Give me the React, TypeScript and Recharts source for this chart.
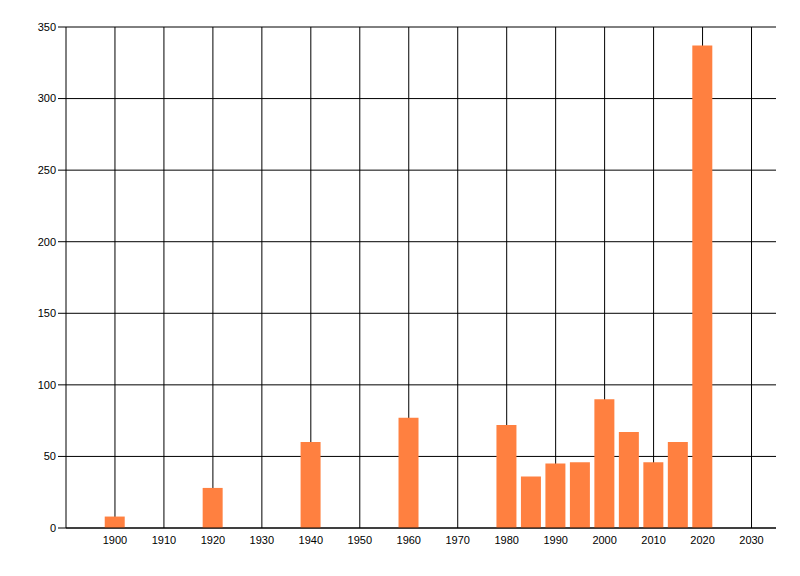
import { BarChart, Bar, XAxis, YAxis, CartesianGrid } from 'recharts';

const years = [1900, 1920, 1940, 1960, 1980, 1985, 1990, 1995, 2000, 2005, 2010, 2015, 2020];
const counts = [8, 28, 60, 77, 72, 36, 45, 46, 90, 67, 46, 60, 337];
const xTicks = [1900, 1910, 1920, 1930, 1940, 1950, 1960, 1970, 1980, 1990, 2000, 2010, 2020, 2030];
const yTicks = [0, 50, 100, 150, 200, 250, 300, 350];

const data = years.map((year, i) => ({ year, count: counts[i] }));

const tickStyle = { fontSize: 11, fill: '#000', fontFamily: '"Liberation Sans", Arial, sans-serif' };

export default function App() {
  return (
    <div style={{ position: 'absolute', left: 0, top: 0, width: 800, height: 576, background: '#fff' }}>
      <BarChart width={800} height={576} data={data} margin={{ top: 27, right: 24, bottom: 18, left: 0 }}>
        <CartesianGrid stroke="#000" strokeWidth={1} syncWithTicks />
        <XAxis
          dataKey="year"
          type="number"
          domain={[1890, 2035]}
          ticks={xTicks}
          interval={0}
          height={30}
          tickLine={false}
          axisLine={{ stroke: '#000' }}
          tick={tickStyle}
          tickMargin={2}
        />
        <YAxis
          type="number"
          domain={[0, 350]}
          ticks={yTicks}
          interval={0}
          width={66}
          tickSize={8}
          tickMargin={2}
          tickLine={{ stroke: '#000' }}
          axisLine={{ stroke: '#000' }}
          tick={tickStyle}
        />
        <Bar dataKey="count" fill="#ff8040" barSize={20} isAnimationActive={false} />
      </BarChart>
    </div>
  );
}
